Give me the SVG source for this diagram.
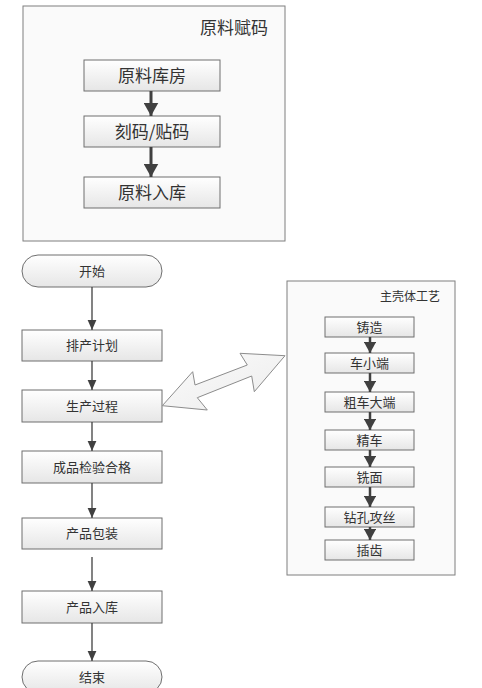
<svg xmlns="http://www.w3.org/2000/svg" width="482" height="688" viewBox="0 0 482 688">
<style>
.frame{fill:#fafafa;stroke:#7f7f7f;stroke-width:1}
.box{fill:url(#g);stroke:#6f6f6f;stroke-width:1}
.t{font-family:"Noto Sans CJK SC","Noto Sans",sans-serif;fill:#333;text-anchor:middle}
.big{font-size:17px}
.mid{font-size:13px}
.sm{font-size:12px}
.thick{stroke:#404040;stroke-width:3;fill:none}
.thin{stroke:#404040;stroke-width:1.3;fill:none}
.med{stroke:#404040;stroke-width:2.5;fill:none}
</style>
<defs>
<linearGradient id="g" x1="0" y1="0" x2="0" y2="1">
<stop offset="0" stop-color="#ffffff"/>
<stop offset="1" stop-color="#e6e6e6"/>
</linearGradient>
<linearGradient id="ga" x1="0" y1="0" x2="1" y2="1">
<stop offset="0" stop-color="#fbfbfb"/>
<stop offset="1" stop-color="#ececec"/>
</linearGradient>
<marker id="ab" markerWidth="5" markerHeight="5" refX="4.5" refY="2.5" orient="auto" markerUnits="strokeWidth"><path d="M0,0 L4.5,2.5 L0,5 Z" fill="#404040"/></marker>
<marker id="as" markerWidth="8" markerHeight="7" refX="8" refY="3.5" orient="auto" markerUnits="strokeWidth"><path d="M0,0 L8,3.5 L0,7 Z" fill="#404040"/></marker>
<marker id="am" markerWidth="5" markerHeight="5" refX="4.5" refY="2.5" orient="auto" markerUnits="strokeWidth"><path d="M0,0 L4.5,2.5 L0,5 Z" fill="#404040"/></marker>
</defs>

<g id="frame-raw">
<rect class="frame" x="23" y="6" width="262" height="235"/>
<text class="t big" x="234" y="34">原料赋码</text>
</g>
<g id="n-kufang"><rect class="box" x="84" y="60" width="136" height="31"/><text class="t big" x="152" y="82">原料库房</text></g>
<g id="n-kema"><rect class="box" x="84" y="116" width="136" height="31"/><text class="t big" x="152" y="138">刻码/贴码</text></g>
<g id="n-ruku"><rect class="box" x="84" y="177" width="136" height="31"/><text class="t big" x="152" y="199">原料入库</text></g>

<g id="frame-main">
<rect class="frame" x="287" y="281" width="168" height="294"/>
<text class="t sm" x="410" y="301">主壳体工艺</text>
</g>
<g id="p1"><rect class="box" x="325" y="317" width="89" height="20"/><text class="t mid" x="369.5" y="332">铸造</text></g>
<g id="p2"><rect class="box" x="325" y="353" width="89" height="20"/><text class="t mid" x="369.5" y="368">车小端</text></g>
<g id="p3"><rect class="box" x="325" y="392" width="89" height="20"/><text class="t mid" x="369.5" y="407">粗车大端</text></g>
<g id="p4"><rect class="box" x="325" y="430" width="89" height="20"/><text class="t mid" x="369.5" y="445">精车</text></g>
<g id="p5"><rect class="box" x="325" y="467" width="89" height="20"/><text class="t mid" x="369.5" y="482">铣面</text></g>
<g id="p6"><rect class="box" x="325" y="507" width="89" height="20"/><text class="t mid" x="369.5" y="522">钻孔攻丝</text></g>
<g id="p7"><rect class="box" x="325" y="540" width="89" height="20"/><text class="t mid" x="369.5" y="555">插齿</text></g>

<g id="f-start"><rect class="box" x="22" y="255" width="140" height="32" rx="16" ry="16"/><text class="t mid" x="92" y="276">开始</text></g>
<g id="f-plan"><rect class="box" x="22" y="330" width="140" height="31"/><text class="t mid" x="92" y="350">排产计划</text></g>
<g id="f-proc"><rect class="box" x="22" y="390" width="140" height="32"/><text class="t mid" x="92" y="411">生产过程</text></g>
<g id="f-check"><rect class="box" x="22" y="451" width="140" height="32"/><text class="t mid" x="92" y="472">成品检验合格</text></g>
<g id="f-pack"><rect class="box" x="22" y="518" width="140" height="31"/><text class="t mid" x="92" y="538">产品包装</text></g>
<g id="f-store"><rect class="box" x="22" y="591" width="140" height="32"/><text class="t mid" x="92" y="612">产品入库</text></g>
<g id="f-end"><rect class="box" x="22" y="661" width="140" height="32" rx="16" ry="16"/><text class="t mid" x="92" y="682">结束</text></g>

<g id="connectors">
<line class="thick" x1="151" y1="91" x2="151" y2="116" marker-end="url(#ab)"/>
<line class="thick" x1="151" y1="147" x2="151" y2="177" marker-end="url(#ab)"/>

<line class="thin" x1="92" y1="287" x2="92" y2="330" marker-end="url(#as)"/>
<line class="thin" x1="92" y1="361" x2="92" y2="390" marker-end="url(#as)"/>
<line class="thin" x1="92" y1="422" x2="92" y2="451" marker-end="url(#as)"/>
<line class="thin" x1="92" y1="483" x2="92" y2="518" marker-end="url(#as)"/>
<line class="thin" x1="92" y1="557" x2="92" y2="591" marker-end="url(#as)"/>
<line class="thin" x1="92" y1="623" x2="92" y2="661" marker-end="url(#as)"/>

<line class="med" x1="370" y1="337" x2="370" y2="353" marker-end="url(#am)"/>
<line class="med" x1="370" y1="373" x2="370" y2="392" marker-end="url(#am)"/>
<line class="med" x1="370" y1="412" x2="370" y2="430" marker-end="url(#am)"/>
<line class="med" x1="370" y1="450" x2="370" y2="467" marker-end="url(#am)"/>
<line class="med" x1="370" y1="487" x2="370" y2="507" marker-end="url(#am)"/>
<line class="med" x1="370" y1="527" x2="370" y2="540" marker-end="url(#am)"/>

<path d="M162.3,405.7 L192.7,371.7 L195,385 L247.3,365 L240,353.3 L285,355.7 L254.3,391.7 L251.7,376 L197.3,397.7 L207.3,410 Z" fill="url(#ga)" stroke="#8c8c8c" stroke-width="1"/>
</g>
</svg>
